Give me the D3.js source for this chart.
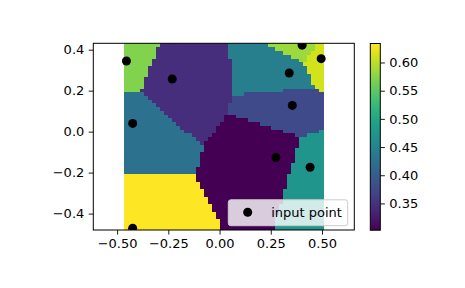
<!DOCTYPE html>
<html>
<head>
<meta charset="utf-8">
<script src="https://cdn.jsdelivr.net/npm/d3@7"></script>
<style>
  body { margin: 0; background: white; }
  svg { display: block; font-family: "DejaVu Sans", sans-serif; }
</style>
</head>
<body>
<script>
// input points and their values
const pointX = [-0.4545, -0.231, 0.403, 0.496, 0.340, 0.355, -0.424, 0.275, 0.442, -0.424];
const pointY = [0.345, 0.257, 0.422, 0.356, 0.286, 0.128, 0.040, -0.126, -0.174, -0.471];
const pointZ = [0.5706, 0.3456, 0.5835, 0.6105, 0.4443, 0.3774, 0.4259, 0.3025, 0.4751, 0.6337];

const xTicks = [-0.5, -0.25, 0, 0.25, 0.5];
const yTicks = [-0.4, -0.2, 0, 0.2, 0.4];
const cbTicks = [0.35, 0.4, 0.45, 0.5, 0.55, 0.6];
const gridN = 50;

const W = 465, H = 288;
const plot = { left: 93.3, right: 354.3, top: 43.3, bottom: 230 };
const cbar = { left: 370.3, right: 380.3, top: 43.5, bottom: 230.2 };
const fontSize = 13;

const svg = d3.select("body").append("svg")
  .attr("width", W)
  .attr("height", H);

svg.append("rect").attr("width", W).attr("height", H).attr("fill", "white");

// grid of the mesh (linspace between the min and max of the points)
const [xMin, xMax] = d3.extent(pointX);
const [yMin, yMax] = d3.extent(pointY);
const gx = d3.range(gridN).map((i) => xMin + (xMax - xMin) * i / (gridN - 1));
const gy = d3.range(gridN).map((i) => yMin + (yMax - yMin) * i / (gridN - 1));
const dx = (xMax - xMin) / (gridN - 1);
const dy = (yMax - yMin) / (gridN - 1);

// y limits are the mesh edges, x limits widened so that aspect is equal
const yLim = [yMin - dy / 2, yMax + dy / 2];
const ppu = (plot.bottom - plot.top) / (yLim[1] - yLim[0]);
const xCenter = (xMin + xMax) / 2;
const xHalf = (plot.right - plot.left) / ppu / 2;
const xLim = [xCenter - xHalf, xCenter + xHalf];

const xScale = d3.scaleLinear().domain(xLim).range([plot.left, plot.right]);
const yScale = d3.scaleLinear().domain(yLim).range([plot.bottom, plot.top]);
const color = d3.scaleSequential(d3.interpolateViridis).domain(d3.extent(pointZ));

svg.append("defs")
  .append("clipPath")
  .attr("id", "plotclip")
  .append("rect")
  .attr("x", plot.left)
  .attr("y", plot.top)
  .attr("width", plot.right - plot.left)
  .attr("height", plot.bottom - plot.top);

// nearest neighbour lookup for every grid node
const cells = [];
gy.forEach((y) => {
  gx.forEach((x) => {
    let best = 0, bestD = Infinity;
    pointX.forEach((px, k) => {
      const d = (px - x) ** 2 + (pointY[k] - y) ** 2;
      if (d < bestD) { bestD = d; best = k; }
    });
    cells.push({ x, y, z: pointZ[best] });
  });
});

svg.append("g")
  .attr("clip-path", "url(#plotclip)")
  .selectAll("rect")
  .data(cells)
  .enter()
  .append("rect")
  .attr("x", (d) => xScale(d.x - dx / 2))
  .attr("y", (d) => yScale(d.y + dy / 2))
  .attr("width", xScale(dx) - xScale(0) + 0.4)
  .attr("height", yScale(0) - yScale(dy) + 0.4)
  .attr("fill", (d) => color(d.z))
  .attr("shape-rendering", "crispEdges");

// input points
svg.append("g")
  .attr("clip-path", "url(#plotclip)")
  .selectAll("circle")
  .data(pointX.map((x, i) => ({ x, y: pointY[i] })))
  .enter()
  .append("circle")
  .attr("cx", (d) => xScale(d.x))
  .attr("cy", (d) => yScale(d.y))
  .attr("r", 4.5)
  .attr("fill", "black");

// axes
const styleAxis = (g) => {
  g.select(".domain").remove();
  g.selectAll(".tick line").attr("stroke", "black").attr("stroke-width", 0.9);
  g.selectAll(".tick text")
    .attr("fill", "black")
    .attr("font-size", fontSize)
    .attr("font-family", "DejaVu Sans, sans-serif");
};

svg.append("g")
  .attr("transform", `translate(0,${plot.bottom})`)
  .call(d3.axisBottom(xScale).tickValues(xTicks).tickFormat(d3.format(".2f"))
    .tickSizeInner(4.6).tickSizeOuter(0).tickPadding(4.4))
  .call(styleAxis);

svg.append("g")
  .attr("transform", `translate(${plot.left},0)`)
  .call(d3.axisLeft(yScale).tickValues(yTicks).tickFormat(d3.format(".1f"))
    .tickSizeInner(4.6).tickSizeOuter(0).tickPadding(4.4))
  .call(styleAxis);

// frame
svg.append("rect")
  .attr("x", plot.left)
  .attr("y", plot.top)
  .attr("width", plot.right - plot.left)
  .attr("height", plot.bottom - plot.top)
  .attr("fill", "none")
  .attr("stroke", "black")
  .attr("stroke-width", 1);

// legend
const legend = svg.append("g");
legend.append("rect")
  .attr("x", 228.3)
  .attr("y", 199.8)
  .attr("width", 119.4)
  .attr("height", 25.9)
  .attr("rx", 2.6)
  .attr("fill", "white")
  .attr("fill-opacity", 0.8)
  .attr("stroke", "#cccccc")
  .attr("stroke-width", 1);
legend.append("circle")
  .attr("cx", 247.7)
  .attr("cy", 212.2)
  .attr("r", 4.5)
  .attr("fill", "black");
legend.append("text")
  .attr("x", 271.2)
  .attr("y", 212.2)
  .attr("dy", "0.35em")
  .attr("font-size", fontSize)
  .attr("fill", "black")
  .text("input point");

// colorbar
const cbScale = d3.scaleLinear().domain(color.domain()).range([cbar.bottom, cbar.top]);
const grad = svg.select("defs").append("linearGradient")
  .attr("id", "cbgrad")
  .attr("x1", 0).attr("y1", 1).attr("x2", 0).attr("y2", 0);
d3.range(0, 1.0001, 0.05).forEach((t) => {
  grad.append("stop")
    .attr("offset", t)
    .attr("stop-color", d3.interpolateViridis(t));
});
svg.append("rect")
  .attr("x", cbar.left)
  .attr("y", cbar.top)
  .attr("width", cbar.right - cbar.left)
  .attr("height", cbar.bottom - cbar.top)
  .attr("fill", "url(#cbgrad)")
  .attr("stroke", "black")
  .attr("stroke-width", 1);

svg.append("g")
  .attr("transform", `translate(${cbar.right},0)`)
  .call(d3.axisRight(cbScale).tickValues(cbTicks).tickFormat(d3.format(".2f"))
    .tickSizeInner(4.6).tickSizeOuter(0).tickPadding(4.4))
  .call(styleAxis);
</script>
</body>
</html>
